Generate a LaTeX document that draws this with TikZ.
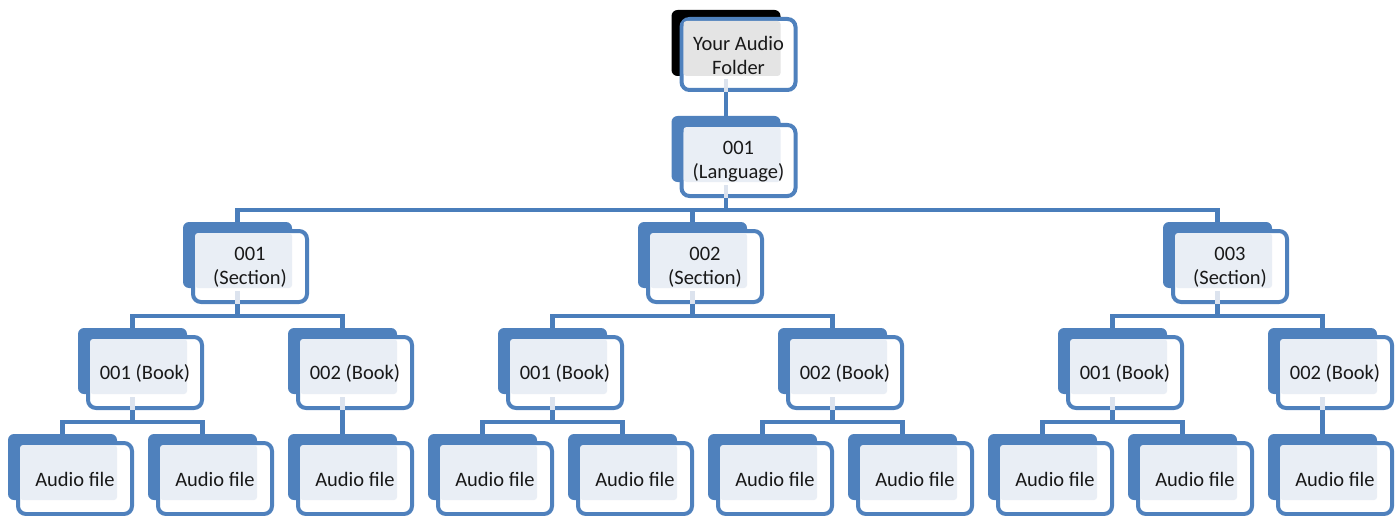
\documentclass[tikz,border=0pt]{standalone}
\usepackage{fontspec}
\setmainfont{Carlito}
\usetikzlibrary{calc}
\definecolor{boxblue}{HTML}{4F81BD}
\definecolor{linkblue}{HTML}{4A7EBB}
\definecolor{paleblue}{HTML}{E9EEF5}
\definecolor{palegray}{HTML}{E4E4E4}
\definecolor{faintblue}{HTML}{DCE3EE}
\tikzset{
 backbox/.style={fill=boxblue, rounded corners=6pt, minimum width=109pt, minimum height=66pt, inner sep=0pt, draw=none},
 frontbox/.style={draw=boxblue, fill=white, line width=4pt, rounded corners=8pt, minimum width=114pt, minimum height=71pt, inner sep=0pt},
 lightfill/.style={fill=paleblue, rounded corners=3pt},
 boxtext/.style={font=\fontsize{20.5}{23.5}\selectfont, align=center, text=black!90, inner sep=0pt},
 conn/.style={draw=linkblue, line width=4.5pt},
 faint/.style={draw=faintblue, line width=4.5pt},
}
% #1 back style, #2 fill colour, #3 name, #4 left, #5 top, #6 text
\newcommand\mkbox[6]{%
 \node[backbox,#1] (#3) at ({#4+54.5},{#5+33}) {};
 \node[frontbox] (#3f) at ({#4+67},{#5+44.5}) {};
 \fill[lightfill, fill=#2] ({#4+12},{#5+11}) rectangle ({#4+109},{#5+66});
 \node[boxtext] (#3t) at ([yshift=-1pt]#3f.center) {#6};
}
\newcommand\mklink[2]{%
 \draw[faint] ([yshift=-3pt]#1.south) -- (#1 |- #1f.south);
 \draw[conn] (#1 |- #1f.south) |- ([yshift=12pt]#2.north) -- (#2.north);
}
\begin{document}
\begin{tikzpicture}[x=1pt,y=-1pt]
\useasboundingbox (0,0) rectangle (1396,516);
% boxes
\mkbox{fill=black}{palegray}{root}{671.5}{10}{Your Audio\\Folder}
\mkbox{}{paleblue}{lang}{671.5}{116}{001\\(Language)}
\mkbox{}{paleblue}{s1}{183}{222}{001\\(Section)}
\mkbox{}{paleblue}{s2}{638}{222}{002\\(Section)}
\mkbox{}{paleblue}{s3}{1163}{222}{003\\(Section)}
\mkbox{}{paleblue}{b1}{78}{328}{001 (Book)}
\mkbox{}{paleblue}{b2}{288}{328}{002 (Book)}
\mkbox{}{paleblue}{b3}{498}{328}{001 (Book)}
\mkbox{}{paleblue}{b4}{778}{328}{002 (Book)}
\mkbox{}{paleblue}{b5}{1058}{328}{001 (Book)}
\mkbox{}{paleblue}{b6}{1268}{328}{002 (Book)}
\mkbox{}{paleblue}{a1}{8}{434}{Audio file}
\mkbox{}{paleblue}{a2}{148}{434}{Audio file}
\mkbox{}{paleblue}{a3}{288}{434}{Audio file}
\mkbox{}{paleblue}{a4}{428}{434}{Audio file}
\mkbox{}{paleblue}{a5}{568}{434}{Audio file}
\mkbox{}{paleblue}{a6}{708}{434}{Audio file}
\mkbox{}{paleblue}{a7}{848}{434}{Audio file}
\mkbox{}{paleblue}{a8}{988}{434}{Audio file}
\mkbox{}{paleblue}{a9}{1128}{434}{Audio file}
\mkbox{}{paleblue}{a10}{1268}{434}{Audio file}
% connectors
\mklink{root}{lang}
\mklink{lang}{s1}
\mklink{lang}{s2}
\mklink{lang}{s3}
\mklink{s1}{b1}
\mklink{s1}{b2}
\mklink{s2}{b3}
\mklink{s2}{b4}
\mklink{s3}{b5}
\mklink{s3}{b6}
\mklink{b1}{a1}
\mklink{b1}{a2}
\mklink{b2}{a3}
\mklink{b3}{a4}
\mklink{b3}{a5}
\mklink{b4}{a6}
\mklink{b4}{a7}
\mklink{b5}{a8}
\mklink{b5}{a9}
\mklink{b6}{a10}
\end{tikzpicture}
\end{document}
